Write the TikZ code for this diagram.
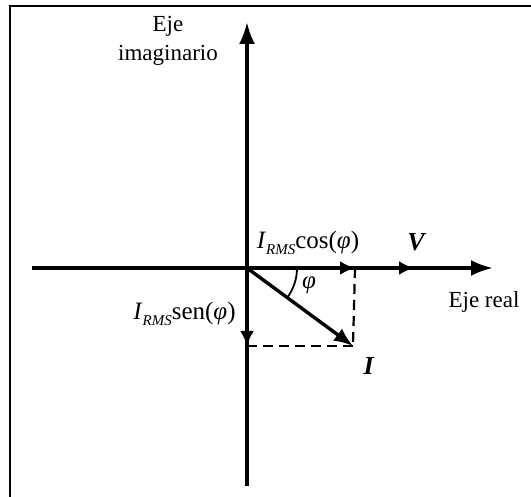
\documentclass[tikz,border=0pt]{standalone}
\usepackage{fontspec}
\setmainfont{Liberation Serif}
\usetikzlibrary{arrows.meta,calc}
\newcommand{\Irms}{\textit{I}\raisebox{-0.55ex}{\fontsize{7.5}{8}\selectfont\textit{RMS}}}
\begin{document}
\begin{tikzpicture}[x=0.5pt,y=-0.5pt,
  axisvec/.style={line width=1.7pt,-{Latex[length=11pt,width=8pt]}},
  vec/.style={line width=1.7pt,-{Latex[length=9.5pt,width=7.5pt]}},
  shortvec/.style={line width=1.7pt,-{Latex[length=7.5pt,width=7pt]}},
  proj/.style={line width=1.1pt,dash pattern=on 5pt off 3pt},
  lbl/.style={inner sep=0pt,font=\fontsize{11.5}{14.5}\selectfont},
  frm/.style={line width=1.1pt}]
\useasboundingbox (0,0) rectangle (531,497);
\draw[frm] (10,497) -- (10,6) -- (531,6);
% axes
\coordinate (O) at (247,268);
\coordinate (xl) at (32,268);
\coordinate (xr) at (493,268);
\coordinate (yb) at (247,486);
\coordinate (yt) at (247,22);
\coordinate (Vt) at (414,268);
\coordinate (Ct) at (355,268);
\coordinate (St) at (247,346);
\coordinate (It) at (353,346);
\draw[axisvec] (xl) -- (xr);
\draw[axisvec] (yb) -- (yt);
\draw[shortvec] (O) -- (Vt);
\draw[shortvec] (O) -- (Ct);
\draw[shortvec] (O) -- (St);
\draw[proj] (Ct) -- (It);
\draw[proj] (St) -- (It);
\draw[vec] (O) -- (It);
\draw[line width=0.9pt] ($(O)+(50,0)$) arc[start angle=0,end angle=-36.3,radius=25pt];
% labels
\node[lbl,align=center] (imag) at (168,41) {Eje\\imaginario};
\node[lbl] (real) at (484,302) {Eje real};
\node[lbl,font=\fontsize{12.5}{14}\selectfont] (cosl) at (308,243) {\Irms cos(\textit{φ})};
\node[lbl,font=\fontsize{12.5}{14}\selectfont,anchor=east] (senl) at (236,314) {\Irms sen(\textit{φ})};
\node[lbl,font=\fontsize{13}{14}\selectfont] (Vl) at (417,242) {\textbf{\textit{V}}};
\node[lbl,font=\fontsize{13}{14}\selectfont] (Il) at (369,366) {\textbf{\textit{I}}};
\node[lbl,font=\fontsize{12.5}{14}\selectfont] (phil) at (309,285) {\textit{φ}};
\end{tikzpicture}
\end{document}
